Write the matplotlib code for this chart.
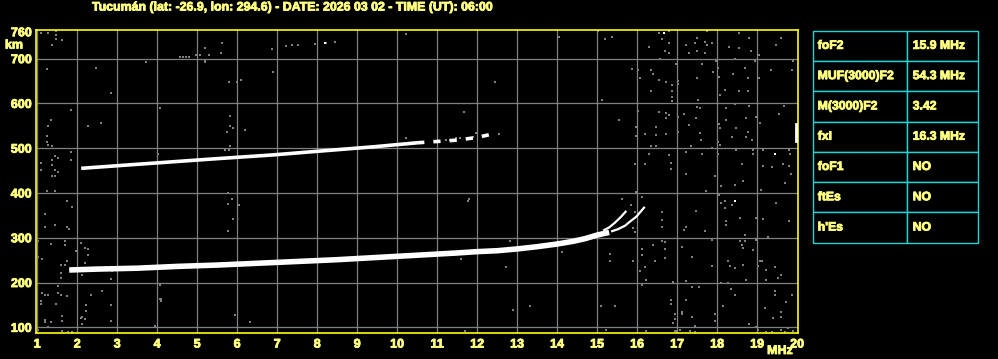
import matplotlib
matplotlib.use("Agg")
import matplotlib.pyplot as plt
import matplotlib.patheffects as pe

plt.rcParams['font.family'] = ['Liberation Sans', 'DejaVu Sans']
plt.rcParams['font.weight'] = 'bold'

# ionogram traces (frequency MHz, virtual height km)
f_main = [1.8, 2.5, 3.5, 4.5, 5.5, 6.5, 7.5, 8.5, 9.5, 10.5, 11.5, 12.0, 12.5, 13.0, 13.5, 14.0, 14.4, 14.7, 15.0, 15.3]
h_main = [228, 230, 232, 236, 239, 243, 247, 251, 256, 261, 266, 269, 271, 275, 280, 286, 292, 298, 306, 312]

f_o = [15.15, 15.3, 15.45, 15.6, 15.73]
h_o = [316, 323, 334, 347, 360]

f_x = [15.35, 15.52, 15.7, 15.82, 15.98, 16.19]
h_x = [314, 319, 327, 336, 347, 369]

f_2f = [2.1, 3.5, 5.4, 6.9, 8.0, 9.4, 10.5]
h_2f = [455, 464, 476, 485, 493, 503, 512]
f_2f_frag = [10.5, 11.0, 11.5, 12.0, 12.3]
h_2f_frag = [512, 515, 518, 524, 530]

# scattered echoes / noise
noise_f = [1.09, 1.28, 1.48, 1.48, 1.48, 1.63, 1.38, 1.24, 2.48, 3.73, 2.84, 1.84, 1.34, 2.59, 1.28, 2.28,
           1.24, 1.24, 1.28, 1.38, 1.84, 1.45, 1.53, 1.84, 1.09, 1.38, 1.38, 1.09, 1.45, 1.53, 1.38, 1.45,
           4.03, 4.18, 1.24, 1.45, 1.74, 1.88, 1.19, 1.19, 1.45, 1.74, 1.80, 1.03, 1.34, 1.70, 1.70, 2.09,
           2.20, 2.28, 2.28, 1.98, 1.03, 1.13, 1.74, 1.59, 1.70, 2.20, 1.59, 1.59, 2.13, 2.84, 1.53, 1.13,
           1.19, 1.28, 1.53, 1.59, 1.74, 1.09, 1.09, 1.48, 2.34, 2.63, 2.84, 2.23, 2.23, 2.13, 2.09, 2.20,
           1.63, 1.63, 1.19, 1.19, 1.34, 2.84, 2.13, 3.95, 4.09, 4.09, 4.07, 1.28, 1.63, 1.78, 1.88, 1.03, 2.88,
           16.55, 16.80, 16.61, 16.80, 16.30, 16.69, 16.80, 17.50, 17.23, 17.44, 17.69, 17.75, 17.88, 17.75,
           17.30, 17.50, 17.69, 18.30, 18.55, 18.80, 18.55, 18.84, 19.05, 19.48, 19.59, 16.58, 16.98, 17.63,
           17.98, 18.44, 18.94, 19.90, 15.88, 16.03, 16.34, 16.40, 16.08, 16.55, 16.73, 16.88, 16.88, 16.88,
           16.88, 17.03, 17.03, 16.34, 17.50, 17.90, 18.03, 18.05, 18.40, 18.69, 18.76, 19.05, 19.34, 19.88,
           18.55, 18.78, 18.19, 18.07, 17.53, 18.44, 16.03, 16.55, 16.73, 16.73, 16.80, 17.18, 17.50, 17.57,
           17.03, 17.30, 17.48, 18.23, 18.80, 18.98, 19.68, 19.54, 15.98, 16.48, 16.48, 16.19, 15.98, 16.73,
           17.03, 17.57, 17.59, 17.34, 18.05, 18.08, 18.23, 18.48, 18.36, 18.73, 18.72, 18.78, 19.07, 18.88,
           18.03, 18.07, 16.34, 16.48, 16.30, 16.80, 17.23, 17.63, 17.88, 18.03, 18.48, 18.90, 18.90, 19.15,
           19.80, 19.82, 15.94, 16.19, 16.84, 16.84, 17.23, 17.94, 18.63, 19.15, 19.38, 19.65, 19.80, 19.84,
           19.69, 19.09, 15.98, 17.73, 18.05, 18.09, 18.44, 18.65, 15.63, 16.13, 15.84, 15.94, 18.19, 18.38,
           18.09, 18.20, 18.58, 18.23, 18.22, 18.97, 19.15, 19.48, 19.80, 16.63, 16.63, 16.63, 17.23, 17.18,
           17.48, 17.69, 15.90, 15.94, 16.63, 16.69, 17.88, 18.69, 18.58, 18.69, 18.61, 18.65, 18.90, 18.98,
           19.28, 16.13, 16.13, 16.40, 16.69, 16.69, 16.44, 17.13, 17.38, 18.28, 18.32, 18.44, 17.88, 18.65,
           19.07, 19.13, 19.03, 19.44, 19.59, 19.22, 15.90, 16.19, 16.08, 16.23, 16.90, 17.23, 18.09, 18.28,
           18.73, 19.23, 19.53, 17.38, 17.54, 16.13, 18.34, 18.44, 19.44, 19.44, 19.88, 19.73, 19.19, 19.59,
           19.59, 19.40, 16.84, 16.84, 17.23, 16.94, 16.94, 16.90, 17.11, 17.13, 17.36, 17.94, 17.94, 18.15,
           18.80, 17.44, 17.00, 16.94, 17.07, 17.32, 17.44, 16.23, 18.98, 19.23, 19.38, 19.59, 19.69, 19.90,
           19.77, 19.03,
           4.58, 4.65, 4.72, 4.79, 5.19, 4.98, 5.08, 5.29, 5.19, 5.19, 5.63, 5.59, 6.88, 7.23, 7.38, 7.53,
           7.94, 8.23, 8.44, 10.23, 6.89, 5.79, 5.99, 6.09, 12.44, 14.04, 15.03, 15.19, 15.38, 15.13, 4.08,
           5.83, 5.83, 5.89, 5.74, 6.19, 11.68, 11.98, 11.90, 12.54, 15.54,
           5.94, 6.33, 12.73, 12.90, 13.33, 14.13, 15.33, 15.33, 15.09, 15.44, 15.23, 11.69, 11.59, 4.08, 4.08,
           5.83, 5.69, 5.80, 10.23, 11.23, 11.33, 11.48, 11.58, 11.90, 5.78, 5.88, 11.79,
           5.78, 6.04, 5.89, 5.78, 11.78, 12.83]
noise_h = [757, 757, 762, 753, 744, 742, 731, 677, 679, 692, 623, 586, 563, 556, 550, 550,
           528, 514, 508, 505, 491, 483, 478, 474, 467, 474, 463, 452, 452, 447, 437, 438,
           487, 467, 405, 405, 383, 368, 354, 324, 328, 324, 319, 293, 286, 293, 284, 288,
           278, 275, 262, 271, 258, 253, 249, 240, 240, 243, 221, 210, 217, 208, 192, 176,
           173, 173, 176, 173, 170, 159, 152, 152, 173, 180, 149, 149, 136, 124, 121, 118,
           126, 113, 117, 112, 112, 113, 108, 104, 164, 159, 195, 100, 91, 89, 89, 95, 225,
           757, 762, 744, 735, 726, 717, 712, 747, 731, 735, 738, 731, 735, 762,
           712, 717, 712, 726, 757, 747, 723, 717, 708, 731, 747, 699, 688, 688,
           694, 699, 694, 694, 677, 674, 674, 665, 656, 653, 647, 642, 628, 615,
           606, 650, 643, 628, 656, 671, 679, 660, 665, 680, 656, 656, 675, 675,
           627, 628, 630, 619, 608, 598, 583, 580, 578, 567, 575, 576, 593, 589,
           569, 552, 567, 589, 595, 569, 595, 576, 547, 547, 530, 531, 528, 531,
           536, 534, 519, 504, 554, 545, 563, 545, 526, 567, 524, 537, 556, 519,
           513, 508, 504, 504, 487, 485, 491, 487, 500, 487, 496, 496, 487, 496,
           496, 487, 464, 464, 467, 453, 442, 438, 464, 461, 457, 464, 461, 442,
           422, 407, 402, 405, 396, 415, 418, 427, 387, 391, 374, 357, 381, 374,
           377, 366, 345, 338, 329, 345, 342, 377, 338, 357, 340, 325, 323, 318,
           360, 316, 322, 312, 293, 290, 294, 307, 293, 293, 283, 278, 273, 294,
           302, 275, 262, 283, 275, 255, 249, 279, 256, 249, 236, 232, 238, 240,
           249, 249, 238, 234, 217, 229, 247, 234, 225, 206, 201, 203, 199, 199,
           206, 206, 209, 191, 191, 195, 185, 173, 182, 173, 173, 156, 143, 134,
           124, 121, 162, 153, 162, 130, 118, 110, 134, 130, 122, 130, 113, 147,
           107, 104, 92, 91, 95, 91, 89, 91, 100, 89, 89, 95, 89, 92,
           98, 95,
           703, 703, 703, 703, 723, 708, 708, 708, 697, 692, 735, 712, 721, 729, 731, 731,
           733, 735, 737, 755, 670, 647, 647, 652, 647, 748, 762, 743, 748, 607, 589,
           572, 549, 545, 536, 540, 580, 534, 526, 531, 563,
           127, 112, 235, 139, 147, 269, 264, 249, 147, 147, 94, 92, 252, 195, 163,
           505, 496, 496, 523, 518, 518, 522, 523, 525, 400, 387, 387,
           375, 373, 342, 315, 382, 293]

bright_f = [16.68, 19.44, 18.44, 8.19]
bright_h = [757, 487, 383, 735]

edge_f = [19.97, 19.97]
edge_h = [517, 553]

xticks = list(range(1, 21))
xlabels = [str(v) for v in range(1, 21)]
yticks = [100, 200, 300, 400, 500, 600, 700, 760]
ylabels = ['100', '200', '300', '400', '500', '600', '700', '760']
grid_f = list(range(1, 20))
grid_h = [100, 200, 300, 400, 500, 600, 700]

params = ['foF2', 'MUF(3000)F2', 'M(3000)F2', 'fxI', 'foF1', 'ftEs', "h'Es"]
values = ['15.9 MHz', '54.3 MHz', '3.42', '16.3 MHz', 'NO', 'NO', 'NO']

title = 'Tucum\u00e1n (lat: -26.9, lon: 294.6) - DATE: 2026 03 02 - TIME (UT): 06:00'

yellow = '#ffff80'
border = '#ffff00'
cyan = '#22d4d4'
gray = '#808080'
W, H = 998, 359
heavy = [pe.withStroke(linewidth=0.6, foreground=yellow)]

fig = plt.figure(figsize=(W / 100, H / 100), dpi=100, facecolor='black')
ax = fig.add_axes([36 / W, 1 - 333 / H, 761.5 / W, 303.5 / H])
ax.set_facecolor('black')

for f in grid_f:
    ax.axvline(f, color=gray, lw=0.9, zorder=1)
for h in grid_h:
    ax.axhline(h, color=gray, lw=0.9, zorder=1)

ax.scatter(noise_f, noise_h, s=4, marker='s', c=gray, linewidths=0, zorder=2)
ax.scatter(bright_f, bright_h, s=4, marker='s', c='white', linewidths=0, zorder=2)
ax.plot(edge_f, edge_h, color='white', lw=2, zorder=3)

ax.plot(f_main, h_main, color='white', lw=4, solid_capstyle='butt', zorder=4)
ax.plot(f_o, h_o, color='white', lw=1.6, solid_capstyle='butt', zorder=4)
ax.plot(f_x, h_x, color='white', lw=1.6, solid_capstyle='butt', zorder=4)
ax.plot(f_2f, h_2f, color='white', lw=2.6, solid_capstyle='butt', zorder=4)
ax.plot(f_2f_frag, h_2f_frag, color='white', lw=2.6, ls=(0, (2, 2.5)), zorder=4)

ax.set_xlim(0.97, 20.01)
ax.set_ylim(87.3, 765)
ax.set_xticks(xticks)
ax.set_xticklabels(xlabels)
ax.set_yticks(yticks)
ax.set_yticklabels(ylabels)
ax.tick_params(length=0, colors=yellow, labelsize=9)
ax.tick_params(axis='x', pad=4)
ax.tick_params(axis='y', pad=3)
for lab in ax.get_xticklabels() + ax.get_yticklabels():
    lab.set_path_effects(heavy)
for sp in ax.spines.values():
    sp.set_color(border)
    sp.set_linewidth(1.2)

fig.text(14 / W, 1 - 45.5 / H, 'km', color=yellow, fontsize=9, ha='center', va='center', path_effects=heavy)
fig.text(780 / W, 1 - 351 / H, 'MHz', color=yellow, fontsize=9, ha='center', va='center', path_effects=heavy)
fig.text(294 / W, 1 - 7.5 / H, title, color=yellow, fontsize=8.9, ha='center', va='center', path_effects=heavy)

# parameter table
tax = fig.add_axes([812.7 / W, 1 - 242.7 / H, 165 / W, 212 / H])
tax.axis('off')
tbl = tax.table(cellText=[[p, v] for p, v in zip(params, values)], bbox=[0, 0, 1, 1],
                colWidths=[94.6 / 165, 70.4 / 165], cellLoc='left')
tbl.auto_set_font_size(False)
tbl.set_fontsize(8.8)
for (r, c), cell in tbl.get_celld().items():
    cell.set_facecolor('black')
    cell.set_edgecolor(cyan)
    cell.set_linewidth(1)
    cell.get_text().set_color(yellow)
    cell.get_text().set_fontweight('bold')
    cell.get_text().set_path_effects(heavy)
    cell.PAD = 0.053 if c == 0 else 0.077

fig.savefig('out.png', dpi=100, facecolor='black')
